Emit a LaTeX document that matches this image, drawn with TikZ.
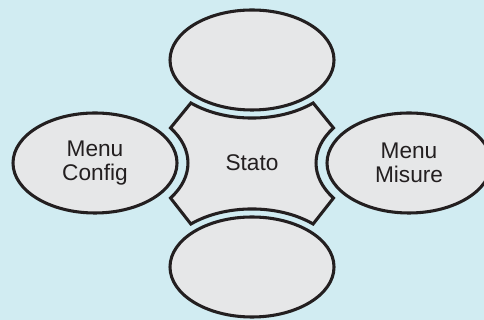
\documentclass[tikz,border=0pt]{standalone}
\usepackage{fontspec}
\setmainfont{Liberation Sans}
\usetikzlibrary{shapes.geometric}
\definecolor{sfondo}{RGB}{209,236,242}
\definecolor{riemp}{RGB}{230,231,232}
\definecolor{tratto}{RGB}{35,31,32}
\tikzset{
    menu/.style={ellipse, draw=tratto, fill=riemp, line width=2.3pt,
                 minimum width=123pt, minimum height=75pt, inner sep=0pt,
                 align=center, text=tratto, font=\fontsize{17}{18}\selectfont},
    centro/.style={draw=tratto, fill=riemp, line width=2.3pt, line join=miter},
    etichetta/.style={text=tratto, font=\fontsize{17}{18}\selectfont},
}

\begin{document}
\begin{tikzpicture}[x=0.75pt,y=0.75pt]
    \fill[sfondo] (0,0) rectangle (484,320);
    \useasboundingbox (0,0) rectangle (484,320);
    \clip (0,0) rectangle (484,320);

    % stato centrale: quattro archi concavi
    \draw[centro] (190.9,217) arc[start angle=227.8, end angle=312.2, x radius=91, y radius=58]
        -- (333.5,192) arc[start angle=144.3, end angle=215.7, x radius=93, y radius=60]
        -- (313.1,96) arc[start angle=47.8, end angle=132.2, x radius=91, y radius=58]
        -- (170.5,122) arc[start angle=-35.7, end angle=35.7, x radius=93, y radius=60]
        -- cycle;
    \node[etichetta] (stato) at (252,157) {Stato};

    \node[menu] (sopra) at (252,260) {};
    \node[menu] (sotto) at (252,53) {};
    \node[menu] (config) at (95,157) {Menu\\Config};
    \node[menu] (misure) at (409,157) {Menu\\Misure};
\end{tikzpicture}
\end{document}
